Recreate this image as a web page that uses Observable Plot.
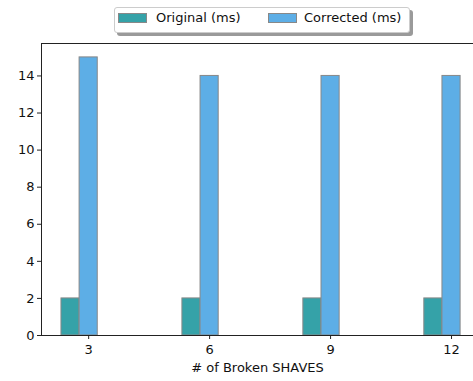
<!DOCTYPE html>
<html>
<head>
<meta charset="utf-8">
<script src="https://cdn.jsdelivr.net/npm/d3@7"></script>
<script src="https://cdn.jsdelivr.net/npm/@observablehq/plot@0.6"></script>
<style>
  html, body { margin: 0; padding: 0; background: #fff; overflow: hidden; }
  #wrap { position: relative; width: 473px; height: 381px; font-family: "DejaVu Sans", sans-serif; }
  #legend { position: absolute; left: 114px; top: 7px; width: 294px; height: 24px;
    border: 1px solid #cccccc; border-radius: 3px; background: #fff;
    box-shadow: 3px 3px 0 #9a9a9a; font-size: 13px; color: #111; z-index: 2; }
  .sw { position: absolute; top: 5px; width: 27px; height: 8px; border: 1px solid #888; }
  .lt { position: absolute; top: 2px; white-space: nowrap; }
  #chart { position: absolute; left: 0; top: 0; }
</style>
</head>
<body>
<div id="wrap">
  <div id="legend">
    <div class="sw" style="left:3px;background:#35a2a8"></div>
    <div class="lt" style="left:41px">Original (ms)</div>
    <div class="sw" style="left:153px;background:#5daee6"></div>
    <div class="lt" style="left:189px">Corrected (ms)</div>
  </div>
  <div id="chart"></div>
</div>
<script>
const brokenShaves = [3, 6, 9, 12];
const originalMs = [2, 2, 2, 2];
const correctedMs = [15, 14, 14, 14];
const yTicks = [0, 2, 4, 6, 8, 10, 12, 14];
const seriesNames = ["Original (ms)", "Corrected (ms)"];
const seriesColors = ["#35a2a8", "#5daee6"];

const barWidth = 0.45;
const xDomain = [1.83, 12.545];
const yDomain = [0, 15.75];

const rows = brokenShaves.map((x, i) => ({x, orig: originalMs[i], corr: correctedMs[i]}));

const chart = Plot.plot({
  width: 473,
  height: 381,
  marginTop: 43,
  marginBottom: 46,
  marginLeft: 41,
  marginRight: 0,
  style: {fontFamily: "DejaVu Sans, sans-serif", fontSize: "13px", color: "#111", background: "#fff"},
  x: {type: "linear", domain: xDomain, range: [41, 473]},
  y: {domain: yDomain},
  marks: [
    Plot.rectY(rows, {x1: d => d.x - 1.5 * barWidth, x2: d => d.x - 0.5 * barWidth, y1: 0, y2: "orig",
      fill: seriesColors[0], stroke: "#888", strokeWidth: 1, inset: 0}),
    Plot.rectY(rows, {x1: d => d.x - 0.5 * barWidth, x2: d => d.x + 0.5 * barWidth, y1: 0, y2: "corr",
      fill: seriesColors[1], stroke: "#888", strokeWidth: 1, inset: 0}),
    Plot.ruleY([yDomain[0], yDomain[1]], {stroke: "#222", strokeWidth: 1}),
    Plot.ruleX([xDomain[0]], {stroke: "#222", strokeWidth: 1}),
    Plot.axisX(brokenShaves, {tickSize: 4, tickPadding: 5, label: null, stroke: "#222", fontSize: 13}),
    Plot.axisY(yTicks, {tickSize: 4, tickPadding: 3, label: null, stroke: "#222", fontSize: 13}),
    Plot.text(["# of Broken SHAVES"], {frameAnchor: "bottom", dy: 36, fontSize: 13, fill: "#111"})
  ]
});
document.getElementById("chart").appendChild(chart);
</script>
</body>
</html>
